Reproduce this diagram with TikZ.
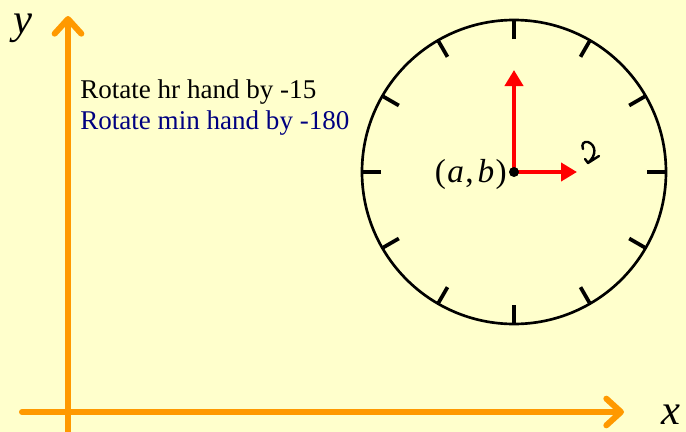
\documentclass[tikz,border=0pt]{standalone}
\usepackage{fontspec}
\setmainfont{Liberation Serif}
\usetikzlibrary{arrows.meta,calc}
\definecolor{bgyellow}{HTML}{FFFFCC}
\definecolor{axisorange}{HTML}{FF9900}
\definecolor{navytext}{HTML}{000080}
\definecolor{handred}{HTML}{FF0000}
\tikzset{
  axis/.style={line width=4.5pt, draw=axisorange, line cap=round, line join=round,
    -{Straight Barb[length=11pt,width=20pt,line cap=round,line join=round]}},
  hand/.style={line width=3.5pt, draw=handred, -{Triangle[length=12pt,width=13.5pt]}},
  tick/.style={line width=2.8pt, draw=black},
  dial/.style={line width=2pt, draw=black},
  note/.style={anchor=base west, inner sep=0pt, font=\fontsize{20.3pt}{24pt}\selectfont},
  axlabel/.style={inner sep=0pt, font=\fontsize{32pt}{36pt}\selectfont\itshape}
}
\begin{document}
\begin{tikzpicture}[x=0.75pt,y=-0.75pt]
\fill[bgyellow] (0,0) rectangle (686,432);
\useasboundingbox (0,0) rectangle (686,432);
% axes
\coordinate (ystart) at (68,432);
\coordinate (yend) at (68,16);
\coordinate (xstart) at (22,412);
\coordinate (xend) at (624,412);
\draw[axis] (ystart) -- (yend);
\draw[axis] (xstart) -- (xend);
\node[axlabel] (ylab) at (23,28) {y};
\node[axlabel] (xlab) at (671,415) {x};
% texts
\node[note] (t1) at (80,98) {Rotate hr hand by -15};
\node[note, text=navytext] (t2) at (80,129) {Rotate min hand by -180};
% clock
\coordinate (c) at (514,172);
\draw[dial] (c) circle [radius=152];
\foreach \a in {0,30,...,330}{
  \draw[tick] ($(c)+(\a:133)$) -- ($(c)+(\a:151)$);
}
\coordinate (hrtip) at (514,70);
\coordinate (mintip) at (577,172);
\draw[hand] (c) -- (hrtip);
\draw[hand] (c) -- (mintip);
\fill[black] (c) circle [radius=5];
\node[anchor=east, inner sep=0pt, font=\fontsize{25pt}{30pt}\selectfont] (ab) at (507,174) {(\kern1pt\textit{a}\kern1pt,\kern3pt\textit{b}\kern1pt)};
% rotation symbol
\draw[line width=1.8pt, line cap=round, line join=round]
  (583,149) .. controls (581,144) and (584,141) .. (588,142)
  .. controls (596,145) and (597,155) .. (588,163)
  -- (585,159)
  (588,163) -- (599,156);
\end{tikzpicture}
\end{document}
